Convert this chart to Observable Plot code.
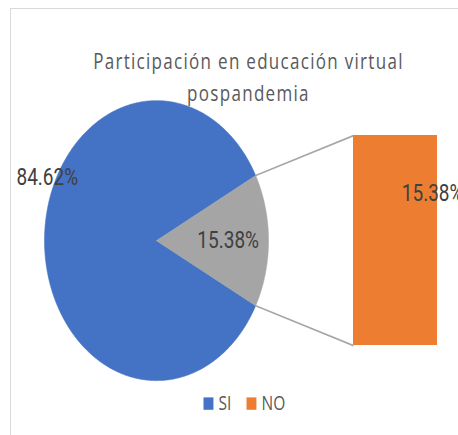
<!DOCTYPE html>
<html><head><meta charset="utf-8">
<script src="https://cdn.jsdelivr.net/npm/d3@7"></script>
<script src="https://cdn.jsdelivr.net/npm/@observablehq/plot@0.6"></script>
<style>
html,body{margin:0;padding:0;background:#fff;overflow:hidden;width:458px;height:435px}
#frame{position:absolute;left:10px;top:8px;width:470px;height:450px;border:1.5px solid #d9d9d9;box-sizing:border-box}
#chart{position:absolute;left:0;top:0;transform:scaleY(1.25);transform-origin:0 0}
#chart g[font-family*="Lato"] text{letter-spacing:1.3px}
</style></head><body><div id="frame"></div><div id="chart"></div>
<script>
// ---- data ----
const titleLines = ["Participación en educación virtual", "pospandemia"];
const categories = ["SI", "NO"];
const values = [84.62, 15.38];          // percent
const labels = ["84.62%", "15.38%"];
const barCategories = ["NO"];
const barValues = [15.38];
const barLabels = ["15.38%"];
const colors = ["#4472C4", "#ED7D31"];
const otherColor = "#A5A5A5";

// ---- layout (pie = unit circle) ----
const barX = [1.759, 2.509];
const barHalf = 0.75;
const labelFont = "'Liberation Sans Narrow', Roboto, sans-serif";
const textFont = "'Open Sans', sans-serif";
const titleFont = "'Open Sans', Lato, sans-serif";

const total = d3.sum(values);
const otherAngle = 2 * Math.PI * values[1] / total;

function wedge(a0, a1) {
  const n = Math.ceil(Math.abs(a1 - a0) / (Math.PI / 360));
  const pts = [{x: 0, y: 0}];
  for (let i = 0; i <= n; i++) {
    const a = a0 + (a1 - a0) * i / n;
    pts.push({x: Math.cos(a), y: Math.sin(a)});
  }
  pts.push({x: 0, y: 0});
  return pts;
}
const mainWedge = wedge(otherAngle / 2, 2 * Math.PI - otherAngle / 2);
const otherWedge = wedge(-otherAngle / 2, otherAngle / 2);

// bar segments (stacked secondary values)
const barTotal = d3.sum(barValues);
let acc = 0;
const barRows = barValues.map((v, i) => {
  const y1 = -barHalf + 2 * barHalf * acc / barTotal;
  acc += v;
  const y2 = -barHalf + 2 * barHalf * acc / barTotal;
  return {x1: barX[0], x2: barX[1], y1, y2, label: barLabels[i], color: colors[1]};
});

const edgeTop = {x: Math.cos(otherAngle / 2), y: Math.sin(otherAngle / 2)};
const edgeBot = {x: Math.cos(otherAngle / 2), y: -Math.sin(otherAngle / 2)};
const connectors = [
  {x1: edgeTop.x, y1: edgeTop.y, x2: barX[0], y2: barHalf},
  {x1: edgeBot.x, y1: edgeBot.y, x2: barX[0], y2: -barHalf}
];

const pieLabels = [
  {x: -0.975, y: 0.45, text: labels[0]},
  {x: 0.64, y: 0, text: labels[1]}
];
const barLabelRows = [{x: 2.19, y: 0.336, text: barLabels[0]}];

const titleRows = [{x: 0.821, y: 1.275, text: titleLines[0]}, {x: 0.821, y: 1.045, text: titleLines[1]}];
const legendRows = [
  {sx: 0.464, tx: 0.554, y: -1.164, text: categories[0], color: colors[0]},
  {sx: 0.848, tx: 0.9375, y: -1.164, text: categories[1], color: colors[1]}
];

const chart = Plot.plot({
  width: 458,
  height: 348,
  margin: 0,
  style: {background: "transparent", overflow: "visible"},
  x: {domain: [-1, 1], range: [44, 268], axis: null},
  y: {domain: [-1, 1], range: [304, 80], axis: null},
  marks: [
    Plot.line(mainWedge, {x: "x", y: "y", fill: colors[0], stroke: colors[0], strokeWidth: 0.5}),
    Plot.line(otherWedge, {x: "x", y: "y", fill: otherColor, stroke: otherColor, strokeWidth: 0.5}),
    Plot.link(connectors, {x1: "x1", y1: "y1", x2: "x2", y2: "y2", stroke: "#a6a6a6", strokeWidth: 1.3}),
    Plot.rect(barRows, {x1: "x1", x2: "x2", y1: "y1", y2: "y2", fill: "color"}),
    Plot.text(pieLabels, {x: "x", y: "y", text: "text", fontSize: 19, fontFamily: labelFont, fill: "#404040"}),
    Plot.text(barLabelRows, {x: "x", y: "y", text: "text", textAnchor: "start", fontSize: 19, fontFamily: labelFont, fill: "#404040"}),
    Plot.text(titleRows, {x: "x", y: "y", text: "text", fontSize: 17, fontFamily: titleFont, fill: "#595959"}),
    Plot.dot(legendRows, {x: "sx", y: "y", symbol: "square", r: 5.6, fill: "color", stroke: null}),
    Plot.text(legendRows, {x: "tx", y: "y", text: "text", textAnchor: "start", fontSize: 15.5, fontFamily: textFont, fill: "#595959"})
  ]
});
document.getElementById("chart").appendChild(chart);
</script></body></html>
